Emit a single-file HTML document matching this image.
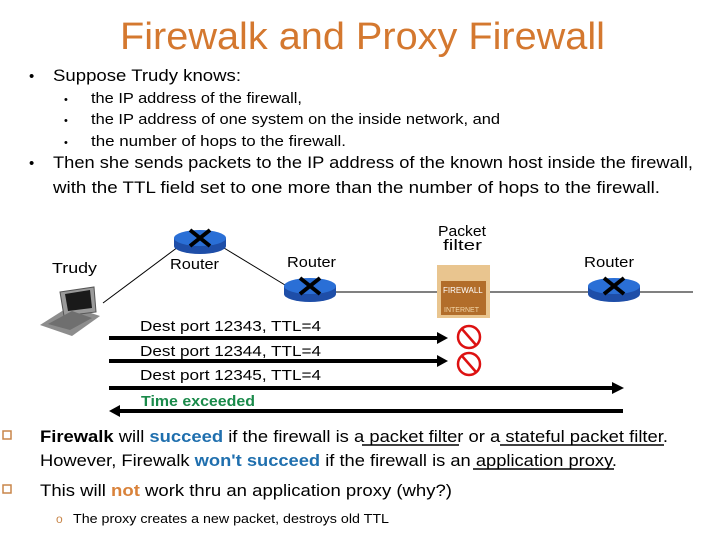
<!DOCTYPE html>
<html><head><meta charset="utf-8"><style>
html,body{margin:0;padding:0;background:#fff;}
svg{display:block;}
text{font-family:"Liberation Sans",sans-serif;}
</style></head><body>
<svg width="720" height="540" viewBox="0 0 720 540" xmlns="http://www.w3.org/2000/svg">
<text x="120" y="49" font-size="38" fill="#d4782f" textLength="485" lengthAdjust="spacingAndGlyphs">Firewalk and Proxy Firewall</text>
<g font-size="17" fill="#000">
<text x="29" y="81" font-size="15">•</text>
<text x="53" y="81" textLength="188" lengthAdjust="spacingAndGlyphs">Suppose Trudy knows:</text>
<text x="29" y="168" font-size="15">•</text>
<text x="53" y="168" textLength="640" lengthAdjust="spacingAndGlyphs">Then she sends packets to the IP address of the known host inside the firewall,</text>
<text x="53" y="193" textLength="607" lengthAdjust="spacingAndGlyphs">with the TTL field set to one more than the number of hops to the firewall.</text>
</g>
<g font-size="15" fill="#000">
<text x="64" y="103" font-size="11">•</text>
<text x="64" y="124" font-size="11">•</text>
<text x="64" y="146" font-size="11">•</text>
<text x="91" y="103" textLength="211" lengthAdjust="spacingAndGlyphs">the IP address of the firewall,</text>
<text x="91" y="124" textLength="409" lengthAdjust="spacingAndGlyphs">the IP address of one system on the inside network, and</text>
<text x="91" y="146" textLength="255" lengthAdjust="spacingAndGlyphs">the number of hops to the firewall.</text>
</g>
<!-- network -->
<g stroke="#000" stroke-width="1">
<line x1="103" y1="303" x2="178" y2="247"/>
<line x1="224" y1="248" x2="285" y2="285"/>
<line x1="335" y1="292" x2="693" y2="292"/>
</g>
<!-- laptop -->
<g>
<polygon points="40,325 70,306 100,316 72,336" fill="#8d8d8d"/>
<polygon points="60,292 94,287 96,312 64,316" fill="#9a9a9a" stroke="#555"/>
<polygon points="65,294 90,290 92,308 68,311" fill="#1a1a1a"/>
<polygon points="48,324 72,311 92,318 70,330" fill="#6f6f6f"/>
</g>
<!-- routers -->
<g id="r">
<ellipse cx="200" cy="246" rx="26" ry="8" fill="#1e4ea8"/>
<rect x="174" y="238" width="52" height="8" fill="#1e4ea8"/>
<ellipse cx="200" cy="238" rx="26" ry="8" fill="#2a6fd6"/>
<path d="M190 230 L210 246 M210 230 L190 246" stroke="#000" stroke-width="4"/>
</g>
<use href="#r" x="110" y="48"/>
<use href="#r" x="414" y="48"/>
<!-- firewall -->
<rect x="437" y="265" width="53" height="53" fill="#e9c58f"/>
<rect x="441" y="281" width="45" height="34" fill="#b26d2a"/>
<text x="443" y="293" font-size="8" fill="#fff">FIREWALL</text>
<text x="444" y="312" font-size="7" fill="#f3d7a8">INTERNET</text>
<!-- stop signs -->
<g fill="none" stroke="#d11" stroke-width="2.5">
<circle cx="469" cy="337" r="11"/><line x1="462" y1="329" x2="476" y2="345"/>
<circle cx="469" cy="364" r="11"/><line x1="462" y1="356" x2="476" y2="372"/>
</g>
<!-- arrows -->
<g fill="#000">
<rect x="109" y="336" width="332" height="4"/><polygon points="437,332 448,338 437,344"/>
<rect x="109" y="359" width="332" height="4"/><polygon points="437,355 448,361 437,367"/>
<rect x="109" y="386" width="508" height="4"/><polygon points="612,382 624,388 612,394"/>
<rect x="115" y="409" width="508" height="4"/><polygon points="120,405 109,411 120,417"/>
</g>
<g font-size="15" fill="#000">
<text x="52" y="273" textLength="45" lengthAdjust="spacingAndGlyphs">Trudy</text>
<text x="170" y="269" textLength="49" lengthAdjust="spacingAndGlyphs">Router</text>
<text x="287" y="267" textLength="49" lengthAdjust="spacingAndGlyphs">Router</text>
<text x="584" y="267" textLength="50" lengthAdjust="spacingAndGlyphs">Router</text>
<text x="438" y="236" textLength="48" lengthAdjust="spacingAndGlyphs">Packet</text>
<text x="443" y="250" textLength="39" lengthAdjust="spacingAndGlyphs">filter</text>
<text x="140" y="331" textLength="181" lengthAdjust="spacingAndGlyphs">Dest port 12343, TTL=4</text>
<text x="140" y="356" textLength="181" lengthAdjust="spacingAndGlyphs">Dest port 12344, TTL=4</text>
<text x="140" y="380" textLength="181" lengthAdjust="spacingAndGlyphs">Dest port 12345, TTL=4</text>
<text x="141" y="406" font-weight="bold" fill="#1a8a4a" textLength="114" lengthAdjust="spacingAndGlyphs">Time exceeded</text>
</g>
<!-- bottom -->
<g fill="none" stroke="#c8864a" stroke-width="1.5">
<rect x="3" y="431" width="8" height="8"/>
<rect x="3" y="485" width="8" height="8"/>
</g>
<g font-size="17" fill="#000">
<text x="40" y="442" textLength="628" lengthAdjust="spacingAndGlyphs"><tspan font-weight="bold">Firewalk</tspan> will <tspan font-weight="bold" fill="#1f6fae">succeed</tspan> if the firewall is a packet filter or a stateful packet filter.</text>
<text x="40" y="466" textLength="577" lengthAdjust="spacingAndGlyphs">However, Firewalk <tspan font-weight="bold" fill="#1f6fae">won't succeed</tspan> if the firewall is an application proxy.</text>
<text x="40" y="496" textLength="412" lengthAdjust="spacingAndGlyphs">This will <tspan font-weight="bold" fill="#d9823a">not</tspan> work thru an application proxy (why?)</text>
<text x="56" y="523" font-size="12" fill="#c8864a">o</text>
<text x="73" y="523" font-size="13" textLength="316" lengthAdjust="spacingAndGlyphs">The proxy creates a new packet, destroys old TTL</text>
</g>
<g stroke="#000" stroke-width="1.5">
<line x1="362" y1="445" x2="459" y2="445"/>
<line x1="500" y1="445" x2="664" y2="445"/>
<line x1="473" y1="469" x2="614" y2="469"/>
</g>
</svg>
</body></html>
